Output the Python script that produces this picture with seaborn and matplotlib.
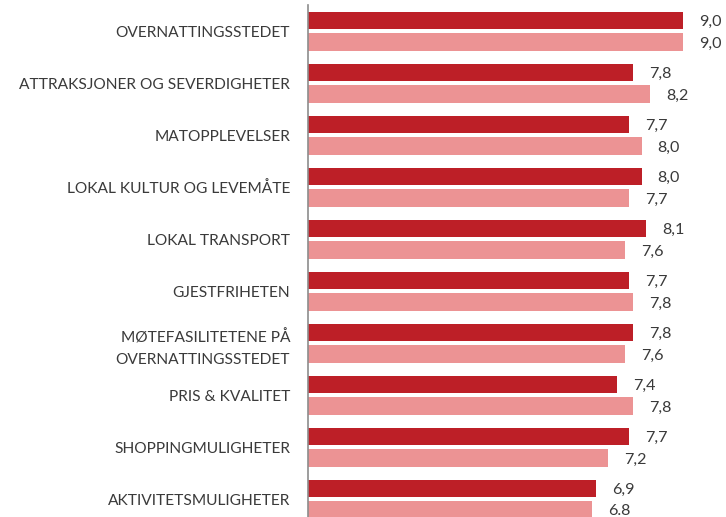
import matplotlib
matplotlib.use("Agg")
import matplotlib.pyplot as plt
import seaborn as sns
import pandas as pd

categories = [
    "OVERNATTINGSSTEDET",
    "ATTRAKSJONER OG SEVERDIGHETER",
    "MATOPPLEVELSER",
    "LOKAL KULTUR OG LEVEMÅTE",
    "LOKAL TRANSPORT",
    "GJESTFRIHETEN",
    "MØTEFASILITETENE PÅ\nOVERNATTINGSSTEDET",
    "PRIS & KVALITET",
    "SHOPPINGMULIGHETER",
    "AKTIVITETSMULIGHETER",
]
series_names = ["Serie 1", "Serie 2"]
values_1 = [9.0, 7.8, 7.7, 8.0, 8.1, 7.7, 7.8, 7.4, 7.7, 6.9]
values_2 = [9.0, 8.2, 8.0, 7.7, 7.6, 7.8, 7.6, 7.8, 7.2, 6.8]
# decimal separator per label (the last light bar is printed with a point)
separators_1 = [","] * len(values_1)
separators_2 = [",", ",", ",", ",", ",", ",", ",", ",", ",", "."]

colors = ["#BD1F27", "#EC9394"]

df = pd.DataFrame({
    "kategori": categories * 2,
    "serie": [series_names[0]] * len(categories) + [series_names[1]] * len(categories),
    "verdi": values_1 + values_2,
})

sns.set_style("white")
plt.rcParams["font.family"] = ["Lato", "DejaVu Sans"]

fig = plt.figure(figsize=(7.26, 5.17), dpi=100)
ax = fig.add_axes([308 / 726, 0.0, 1 - 308 / 726, 1 - 5 / 517])

sns.barplot(
    data=df, x="verdi", y="kategori", hue="serie", orient="h",
    palette=colors, width=0.82, gap=0.17, legend=False, ax=ax,
    saturation=1, edgecolor="none",
)

text_color = "#3A3A3A"
for container, vals, seps in zip(ax.containers, [values_1, values_2], [separators_1, separators_2]):
    labels = [f"{v:.1f}".replace(".", s) for v, s in zip(vals, seps)]
    texts = ax.bar_label(container, labels=labels, padding=11.5, fontsize=11.6, color=text_color)
    for t in texts:
        t.set_va("center_baseline")

ax.set_xlim(0, 10.02)
ax.set_ylim(9.341, -0.505)
ax.set_xlabel("")
ax.set_ylabel("")
ax.set_xticks([])
ax.tick_params(axis="y", length=0, pad=12.8, labelsize=11.2, labelcolor=text_color)
for lbl in ax.get_yticklabels():
    lbl.set_linespacing(1.7)

for side in ["top", "right", "bottom"]:
    ax.spines[side].set_visible(False)
ax.spines["left"].set_color("#8C8C8C")
ax.spines["left"].set_linewidth(1.2)

fig.savefig("out.png", dpi=100)
